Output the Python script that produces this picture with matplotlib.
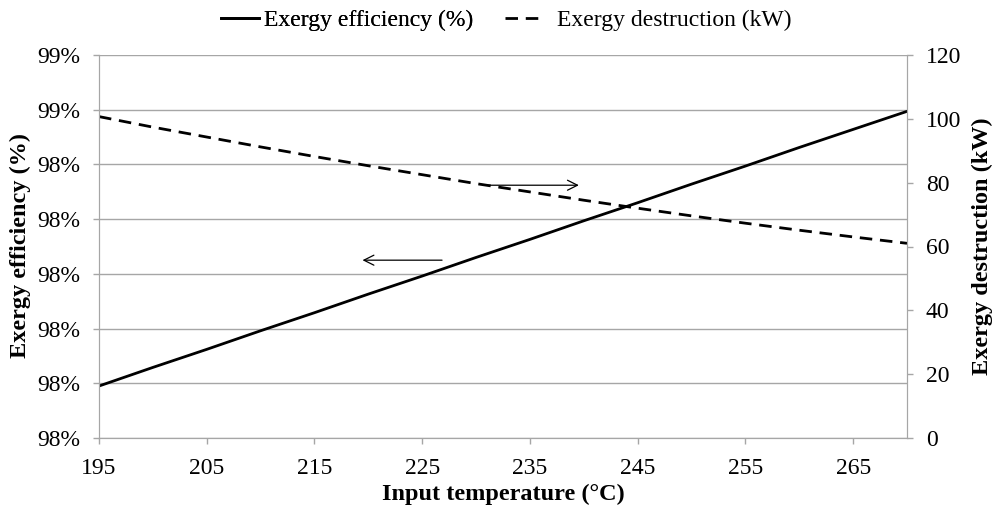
import numpy as np
import matplotlib
matplotlib.use("Agg")
import matplotlib.pyplot as plt
from matplotlib.ticker import FuncFormatter

# Data
temp = [195, 200, 205, 210, 215, 220, 225, 230, 235, 240, 245, 250, 255, 260, 265, 270]
efficiency = [0.98045, 0.98079, 0.98112, 0.98146, 0.98179, 0.98213, 0.98246, 0.98280,
              0.98313, 0.98347, 0.98380, 0.98414, 0.98447, 0.98481, 0.98514, 0.98547]
destruction = [100.7, 97.4, 94.3, 91.2, 88.2, 85.3, 82.5, 79.7,
               77.1, 74.5, 72.0, 69.6, 67.3, 65.1, 63.0, 61.0]

x_ticks = [195, 205, 215, 225, 235, 245, 255, 265]
eff_ticks = [0.9795, 0.9805, 0.9815, 0.9825, 0.9835, 0.9845, 0.9855, 0.9865]
kw_ticks = [0, 20, 40, 60, 80, 100, 120]

plt.rcParams['font.family'] = ['Liberation Serif', 'DejaVu Serif']
plt.rcParams['font.size'] = 17

grey = '#a6a6a6'

fig = plt.figure(figsize=(9.93, 5.13), dpi=100)
ax = fig.add_axes([99/993, 1-438/513, (907-99)/993, (438-55)/513])
ax2 = ax.twinx()

l1, = ax.plot(temp, efficiency, color='black', lw=2.0, label='Exergy efficiency (%)')
l2, = ax2.plot(temp, destruction, color='black', lw=2.0, linestyle=(0, (4.5, 2.8)),
               label='Exergy destruction (kW)')

ax.set_xlim(195, 270)
ax.set_ylim(eff_ticks[0], eff_ticks[-1])
ax.set_yticks(eff_ticks)
ax.yaxis.set_major_formatter(FuncFormatter(lambda v, p: '{:.0f}%'.format(v*100)))
ax.set_xticks(x_ticks)
ax2.set_ylim(0, 120)
ax2.set_yticks(kw_ticks)

ax.grid(axis='y', color=grey, lw=1.0)
ax.set_axisbelow(True)

for a in (ax, ax2):
    for s in a.spines.values():
        s.set_color(grey)
    a.spines['top'].set_visible(False)
    a.tick_params(color=grey, length=4.5, width=1, direction='out', labelsize=17, pad=9)
ax.tick_params(axis='x', pad=10)

# axis titles
fig.text(503/993, 1-494/513, 'Input temperature (°C)', fontweight='bold', fontsize=17.5,
         ha='center', va='center')
fig.text(20/993, 1-246/513, 'Exergy efficiency (%)', fontweight='bold', fontsize=17.5,
         ha='center', va='center', rotation=90)
fig.text(982/993, 1-246/513, 'Exergy destruction (kW)', fontweight='bold', fontsize=17.5,
         ha='center', va='center', rotation=90)

# arrows pointing to each series' axis
ax.annotate('', xy=(219.2, 0.98275), xytext=(227.1, 0.98275),
            arrowprops=dict(arrowstyle='->', color='black', lw=0.9, mutation_scale=18))
ax2.annotate('', xy=(239.8, 79.2), xytext=(230.8, 79.2),
             arrowprops=dict(arrowstyle='->', color='black', lw=0.9, mutation_scale=18))

leg1 = fig.legend(handles=[l1], loc='center left', bbox_to_anchor=(221/993, 1-20/513),
                  frameon=False, fontsize=17, handlelength=1.6, handletextpad=0.2,
                  borderpad=0, borderaxespad=0)
leg2 = fig.legend(handles=[l2], loc='center left', bbox_to_anchor=(505/993, 1-20/513),
                  frameon=False, fontsize=17, handlelength=1.6, handletextpad=0.6,
                  borderpad=0, borderaxespad=0)
fig.add_artist(leg1)

plt.savefig('out.png', dpi=100)
